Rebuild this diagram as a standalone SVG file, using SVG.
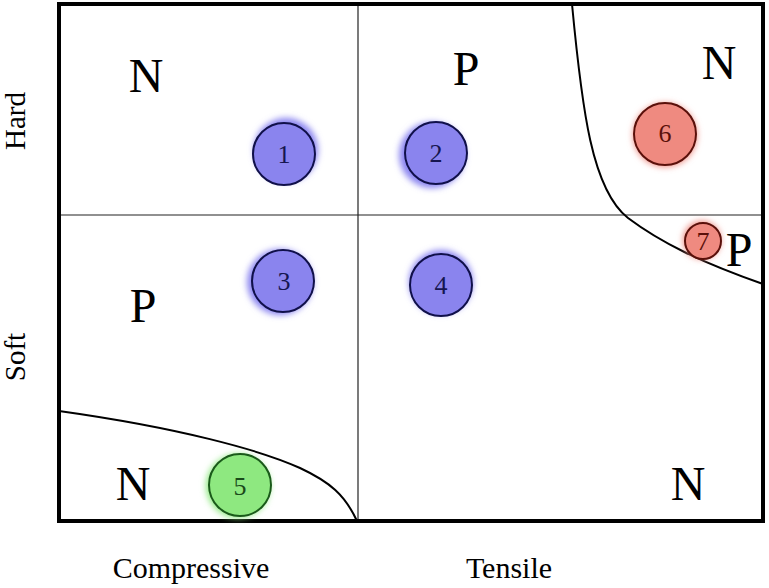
<svg xmlns="http://www.w3.org/2000/svg" width="769" height="588" viewBox="0 0 769 588">
<defs>
<filter id="glow" x="-50%" y="-50%" width="200%" height="200%"><feGaussianBlur stdDeviation="3"/></filter>
</defs>
<style>
text{font-family:"Liberation Serif","DejaVu Serif",serif;fill:#000}
.big{font-size:48px;text-anchor:middle}
.ax{font-size:30px;text-anchor:middle}
.vax{font-size:29px;text-anchor:middle}
.num{font-size:26px;text-anchor:middle}
.grid{stroke:#222;stroke-width:1.2;fill:none}
.curve{stroke:#000;stroke-width:2;fill:none}
.blue .halo{fill:#8a84f0;filter:url(#glow)}
.blue .c{fill:#8a84ee;stroke:#10104a;stroke-width:2}
.blue text{fill:#161650}
.red .halo{fill:#ee8a80;filter:url(#glow)}
.red .c{fill:#ef8a80;stroke:#5a100a;stroke-width:2}
.red text{fill:#5a100a}
.green .halo{fill:#8ee880;filter:url(#glow)}
.green .c{fill:#8ee880;stroke:#1a5a1a;stroke-width:2}
.green text{fill:#1a4a1a}
</style>
<rect width="769" height="588" fill="#fff"/>
<g id="frame">
<line class="grid" x1="358" y1="4" x2="358" y2="521"/>
<line class="grid" x1="59" y1="215" x2="763" y2="215"/>
<rect x="59" y="4" width="704" height="517" fill="none" stroke="#000" stroke-width="4"/>
</g>
<g id="connectors">
<path class="curve" d="M572,4 C582,110 592,190 628,218 C660,242 700,262 763,284"/>
<path class="curve" d="M59,411 C180,428 260,450 300,468 C330,482 345,495 357,521"/>
</g>
<g id="labels">
<text class="big" x="146" y="92">N</text>
<text class="big" x="466" y="85">P</text>
<text class="big" x="719" y="79">N</text>
<text class="big" x="739" y="266">P</text>
<text class="big" x="143" y="322">P</text>
<text class="big" x="133" y="500">N</text>
<text class="big" x="688" y="500">N</text>
<text class="ax" x="191" y="578">Compressive</text>
<text class="ax" x="509" y="578">Tensile</text>
<text class="vax" transform="translate(25,121) rotate(-90)">Hard</text>
<text class="vax" transform="translate(25,357) rotate(-90)">Soft</text>
</g>
<g id="n1" class="blue"><circle class="halo" cx="286" cy="150" r="32"/><circle class="c" cx="284" cy="154" r="31"/><text class="num" x="284" y="163">1</text></g>
<g id="n2" class="blue"><circle class="halo" cx="432" cy="155" r="33"/><circle class="c" cx="436" cy="153" r="31"/><text class="num" x="436" y="162">2</text></g>
<g id="n3" class="blue"><circle class="halo" cx="280" cy="282" r="33"/><circle class="c" cx="283" cy="281" r="31"/><text class="num" x="284" y="290">3</text></g>
<g id="n4" class="blue"><circle class="halo" cx="441" cy="282" r="32"/><circle class="c" cx="441" cy="285" r="31"/><text class="num" x="441" y="294">4</text></g>
<g id="n5" class="green"><circle class="halo" cx="238" cy="486" r="32"/><circle class="c" cx="240" cy="485" r="31"/><text class="num" x="240" y="495">5</text></g>
<g id="n6" class="red"><circle class="halo" cx="665" cy="135" r="32"/><circle class="c" cx="665" cy="134" r="31"/><text class="num" x="665" y="142">6</text></g>
<g id="n7" class="red"><circle class="halo" cx="702" cy="240" r="19"/><circle class="c" cx="703" cy="241" r="18"/><text class="num" x="703" y="250">7</text></g>
</svg>
